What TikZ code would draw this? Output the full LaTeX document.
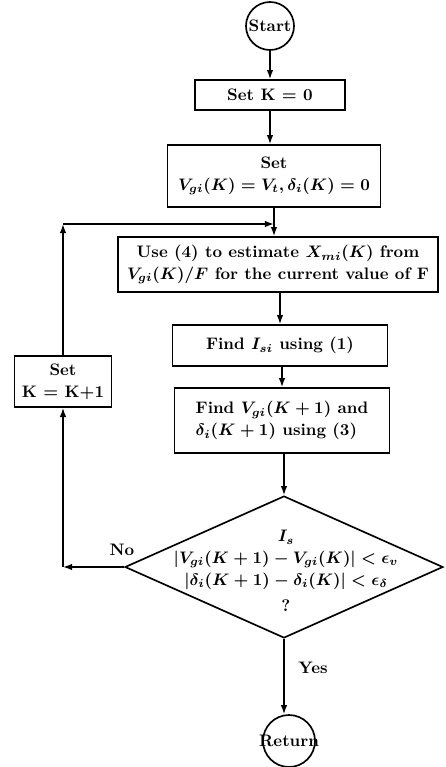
\documentclass[tikz,border=0pt]{standalone}
\usetikzlibrary{shapes.geometric,arrows.meta}
\begin{document}
\begin{tikzpicture}[x=0.6pt,y=-0.6pt,
  every node/.style={font=\fontsize{10}{13}\selectfont\bfseries\boldmath},
  box/.style={draw,line width=1pt,rectangle,inner sep=2pt},
  circ/.style={draw,line width=1pt,circle,inner sep=0pt},
  dia/.style={draw,line width=1pt,diamond,inner sep=0pt,minimum width=190.8pt,minimum height=85.2pt},
  conn/.style={line width=1pt,-{Latex[length=5.5pt,width=4pt]}},
  line/.style={line width=1pt}]
\useasboundingbox (0,0) rectangle (445,767);
% nodes
\node[circ,minimum size=28.8pt] (start) at (270,26) {};
\node (startt) at (start) {Start};
\node[box,minimum width=90pt,minimum height=18pt] (b1) at (270,95) {Set K = 0};
\node[box,minimum width=127.8pt,minimum height=37.2pt,align=center] (b2) at (274,176) {Set\\$V_{gi}(K) = V_t, \delta_i(K) = 0$};
\node[box,minimum width=192pt,minimum height=33pt,align=center] (b3) at (278,264.5) {Use (4) to estimate $X_{mi}(K)$ from\\$V_{gi}(K)/F$ for the current value of F};
\node[box,minimum width=129pt,minimum height=24.6pt] (b4) at (280,345.5) {Find $I_{si}$ using (1)};
\node[box,minimum width=129pt,minimum height=39pt,align=left] (b5) at (282,420.5) {Find $V_{gi}(K+1)$ and\\$\delta_i(K+1)$ using (3)};
\node[dia] (d) at (284,567) {};
\node[align=center] (dt) at (286,571) {$I_s$\\$|V_{gi}(K+1) - V_{gi}(K)| < \epsilon_v$\\$|\delta_i(K+1) - \delta_i(K)| < \epsilon_\delta$\\[3pt]?};
\node[circ,minimum size=31.2pt] (ret) at (289,741) {};
\node (rett) at (ret) {Return};
\node[box,minimum width=58.2pt,minimum height=30.6pt,align=center] (k1) at (63,381.5) {Set\\K = K+1};
\node (no) at (122,550) {No};
\node (yes) at (313,668) {Yes};
% helper coordinates
\coordinate (nocorner) at (63,567);
\coordinate (topcorner) at (63,224);
% connectors
\draw[conn] (start.south) -- (start.south |- b1.north);
\draw[conn] (b1.south) -- (b1.south |- b2.north);
\draw[conn] (b2.south) -- (b2.south |- b3.north);
\draw[conn] (b3.south -| b4.north) -- (b4.north);
\draw[conn] (b4.south -| b5.north) -- (b5.north);
\draw[conn] (b5.south -| d.north) -- (d.north);
\draw[conn] (d.south) -- (d.south |- ret.north);
\draw[conn] (d.west) -- (nocorner);
\draw[conn] (nocorner) -- (k1.south);
\draw[conn] (k1.north) -- (topcorner);
\draw[conn] (topcorner) -- (b2.south |- topcorner);
\end{tikzpicture}
\end{document}
